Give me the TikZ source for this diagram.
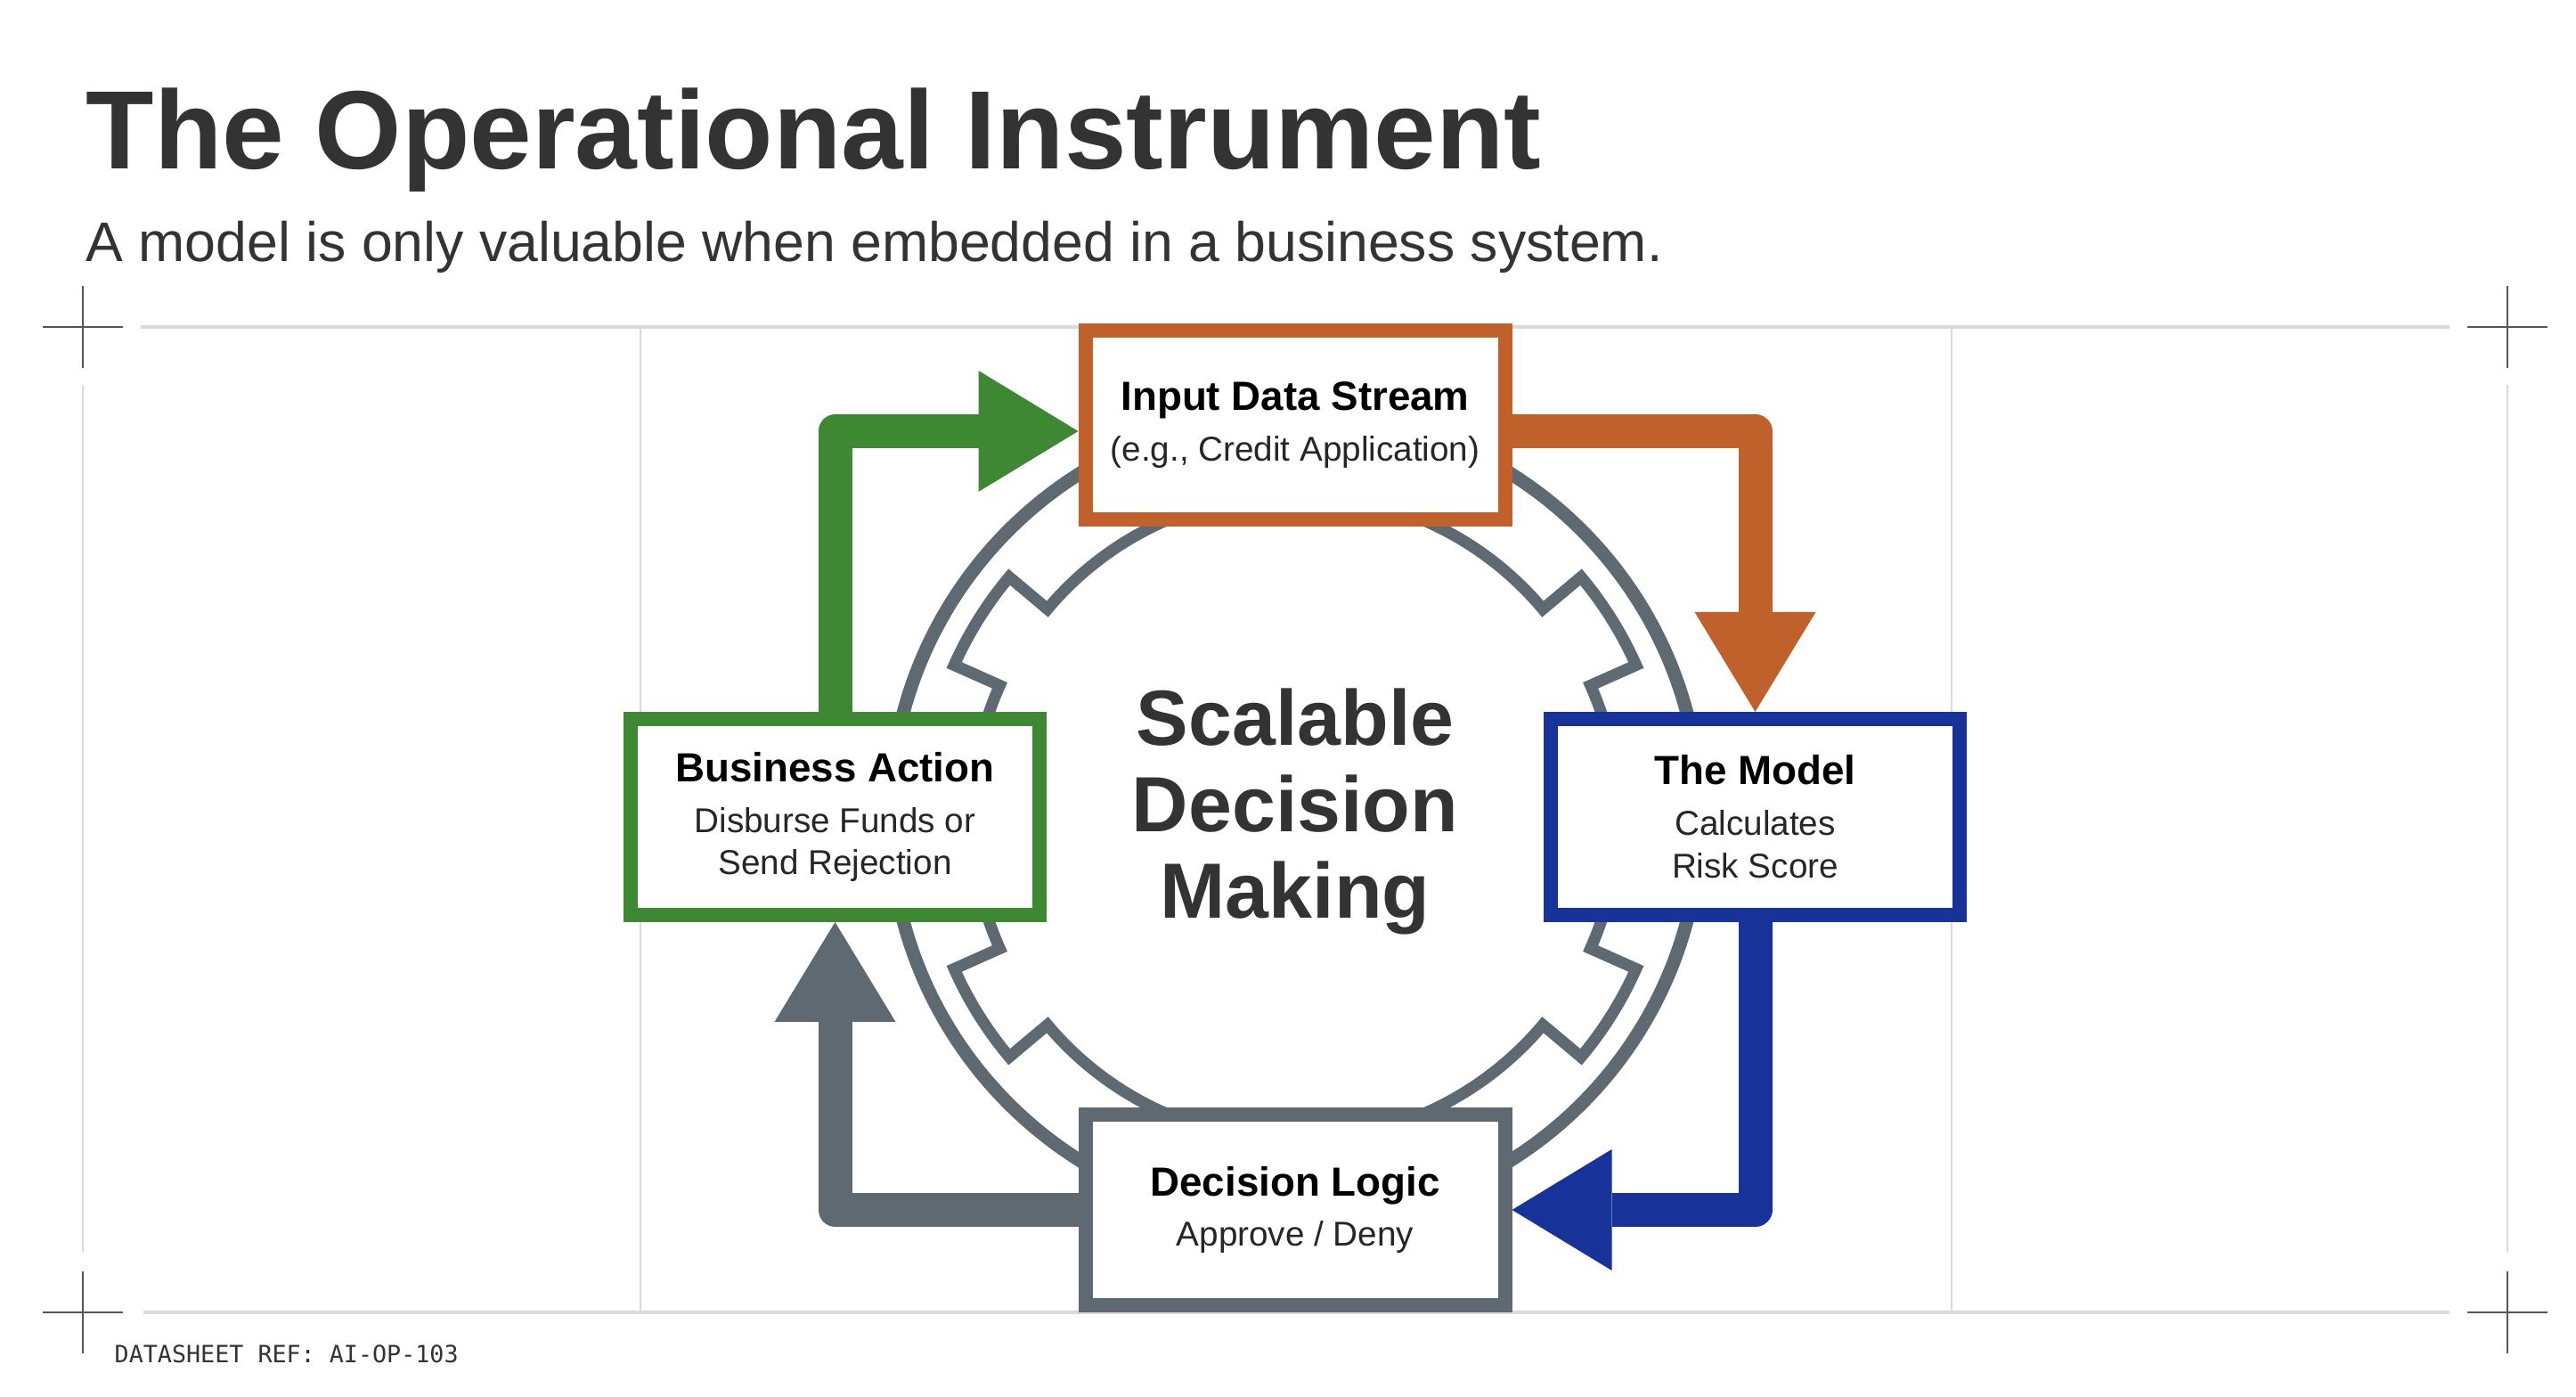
\documentclass[tikz,border=0pt]{standalone}
\usepackage{fontspec}
\setmainfont{Liberation Sans}
\setmonofont{DejaVu Sans Mono}
\usepackage{xcolor}
\usepackage{tikz}
\usetikzlibrary{arrows.meta, calc}

\definecolor{inkdark}{HTML}{333333}
\definecolor{flowOrange}{HTML}{C0602A}
\definecolor{flowBlue}{HTML}{17339A}
\definecolor{flowGreen}{HTML}{3E8834}
\definecolor{flowGray}{HTML}{5E6971}
\definecolor{frameGray}{HTML}{DADADA}
\definecolor{markGray}{HTML}{555555}

\tikzset{
  stagebox/.style={draw, line width=0.16cm, fill=white, inner sep=0pt, align=center,
    font=\fontsize{11}{13.6}\selectfont, text=black!85},
  flow/.style={line width=0.38cm, line join=round,
    -{Triangle[length=1.12cm, width=1.36cm, line width=0pt]}},
  cropmark/.style={markGray, line width=0.75pt},
  guide/.style={frameGray, line width=0.6pt},
}

\newcommand{\boxtitle}[1]{{\fontsize{13}{16}\selectfont\bfseries\color{black}#1}}

\begin{document}
\begin{tikzpicture}

\useasboundingbox (0,0) rectangle (28.92,15.68);

% Heading
\node[anchor=base west, inner sep=0pt, text=inkdark, font=\fontsize{35.6}{40}\selectfont\bfseries]
  (title) at (0.96,13.78) {The Operational Instrument};
\node[anchor=base west, inner sep=0pt, text=inkdark, font=\fontsize{17.8}{20}\selectfont]
  (subtitle) at (0.96,12.74) {A model is only valuable when embedded in a business system.};

% Frame and crop marks
\draw[guide, line width=0.9pt] (1.58,12.01) -- (27.50,12.01);
\draw[guide, line width=0.9pt] (1.61,0.95) -- (27.50,0.95);
\draw[guide] (0.93,11.36) -- (0.93,1.63);
\draw[guide] (28.15,11.36) -- (28.15,1.63);
\draw[guide, line width=0.4pt] (7.19,12.01) -- (7.19,0.95);
\draw[guide, line width=0.4pt] (21.91,12.01) -- (21.91,0.95);
\foreach \x/\y in {0.93/12.01, 28.15/12.01, 0.93/0.95, 28.15/0.95}
  \draw[cropmark] (\x-0.45,\y) -- (\x+0.45,\y) (\x,\y-0.46) -- (\x,\y+0.46);

\node[anchor=base west, inner sep=0pt, text=inkdark, font=\fontsize{7.6}{9}\selectfont\ttfamily]
  (footer) at (1.28,0.38) {DATASHEET REF: AI-OP-103};

% Gear and ring
\coordinate (hub) at (14.54,6.51);
\draw[flowGray, line width=0.15cm] (hub) circle (4.55);
\begin{scope}[shift={(hub)}]
\draw[flowGray, line width=0.13cm]
  (-24:3.63) arc[start angle=-24, end angle=24, radius=3.63] -- (24:4.19)
  arc[start angle=24, end angle=40, radius=4.19] -- (40:3.63)
  arc[start angle=40, end angle=140, radius=3.63] -- (140:4.19)
  arc[start angle=140, end angle=156, radius=4.19] -- (156:3.63)
  arc[start angle=156, end angle=204, radius=3.63] -- (204:4.19)
  arc[start angle=204, end angle=220, radius=4.19] -- (220:3.63)
  arc[start angle=220, end angle=320, radius=3.63] -- (320:4.19)
  arc[start angle=320, end angle=336, radius=4.19] -- cycle;
\end{scope}

\node[text=inkdark, align=center, font=\fontsize{25}{27.5}\selectfont\bfseries]
  (core) at (14.54,6.57) {Scalable\\Decision\\Making};

% Stages
\node[stagebox, draw=flowOrange, minimum width=4.71cm, minimum height=2.12cm]
  (input) at (14.54,10.91) {\boxtitle{Input Data Stream}\\[2.6pt](e.g., Credit Application)};
\node[stagebox, draw=flowBlue, minimum width=4.59cm, minimum height=2.20cm]
  (model) at (19.705,6.51) {\boxtitle{The Model}\\[2.6pt]Calculates\\Risk Score};
\node[stagebox, draw=flowGray, minimum width=4.71cm, minimum height=2.14cm]
  (decision) at (14.54,2.10) {\boxtitle{Decision Logic}\\[2.6pt]Approve / Deny};
\node[stagebox, draw=flowGreen, minimum width=4.59cm, minimum height=2.20cm]
  (action) at (9.375,6.51) {\boxtitle{Business Action}\\[2.6pt]Disburse Funds or\\Send Rejection};

% Flow arrows
\draw[flow, flowOrange] ([yshift=-0.07cm]input.east) -| (model.north);
\draw[flow, flowBlue] (model.south) |- (decision.east);
\draw[flow, flowGray] (decision.west) -| (action.south);
\draw[flow, flowGreen] (action.north) |- ([yshift=-0.07cm]input.west);

\end{tikzpicture}
\end{document}
